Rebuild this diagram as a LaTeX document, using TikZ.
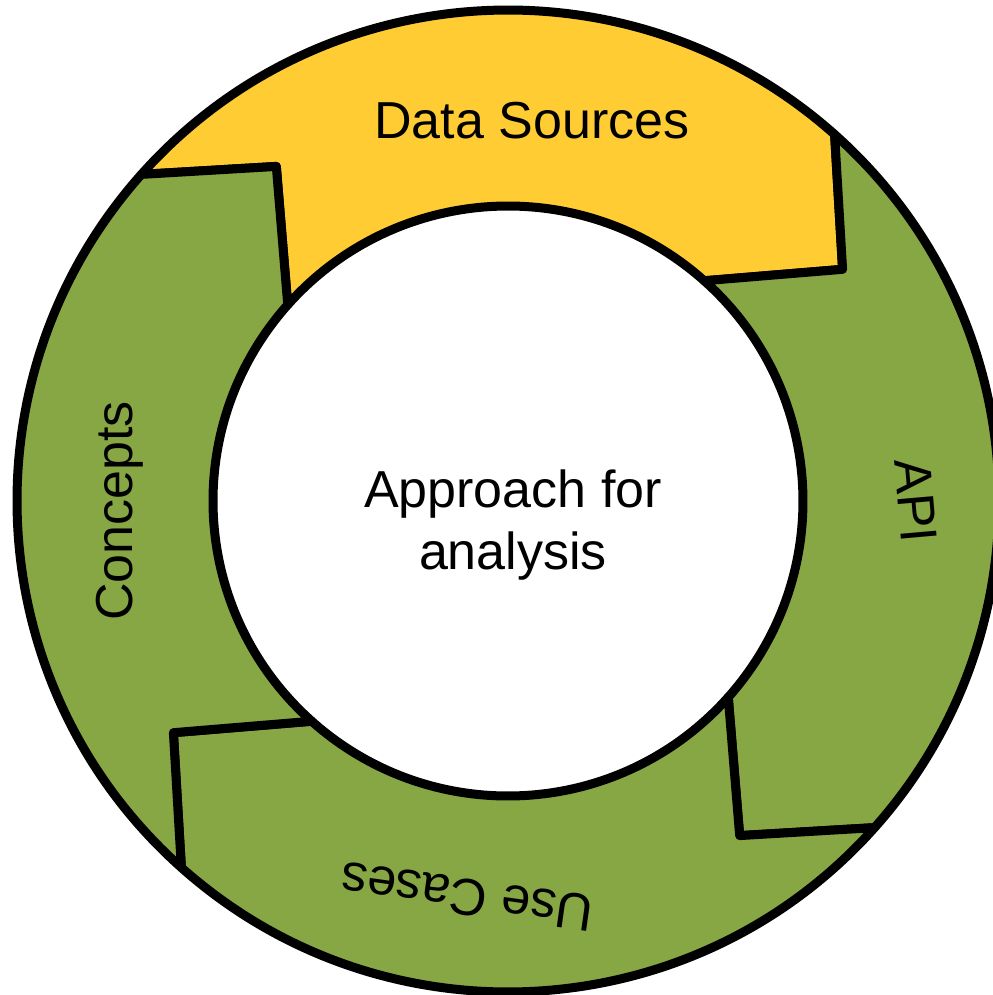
\documentclass[tikz,border=0pt]{standalone}
\usepackage{fontspec}
\setmainfont{Liberation Sans}
\usepackage{tikz}
\usetikzlibrary{positioning}
\definecolor{sourceyellow}{HTML}{FFCC33}
\definecolor{partgreen}{HTML}{87A644}
\tikzstyle{ring part}=[draw=black,line width=0.09cm,line join=round]
\tikzstyle{ring label}=[font=\fontsize{14.8pt}{17.6pt}\selectfont,inner sep=0pt]
% colour, start angle, end angle of one part of the ring
\newcommand{\ringpart}[3]{
  \draw[ring part,fill=#1] (#2:4.91) arc[start angle=#2,end angle=#3,radius=4.91]
    -- ({#3-13.6}:4.07) -- (#3:2.95) arc[start angle=#3,end angle=#2,radius=2.95]
    -- ({#2-13.6}:4.07) -- cycle
}

\begin{document}
\begin{tikzpicture}
  \useasboundingbox (-5.08,-4.94) rectangle (4.85,5.01);
  \ringpart{sourceyellow}{138.3}{48.3};
  \ringpart{partgreen}{48.3}{-41.7};
  \ringpart{partgreen}{-41.7}{-131.7};
  \ringpart{partgreen}{228.3}{138.3};

  \node[ring label] (sources) at (0.24,3.80) {Data Sources};
  \node[ring label,rotate=-85] (api) at (4.08,0) {API};
  \node[ring label,rotate=172] (cases) at (-0.41,-3.96) {Use Cases};
  \node[ring label,rotate=90] (concepts) at (-3.88,-0.10) {Concepts};
  \node[ring label,align=center,font=\fontsize{14.8pt}{17.64pt}\selectfont] (hub) at (0.05,-0.245) {Approach for\\analysis};
\end{tikzpicture}
\end{document}
